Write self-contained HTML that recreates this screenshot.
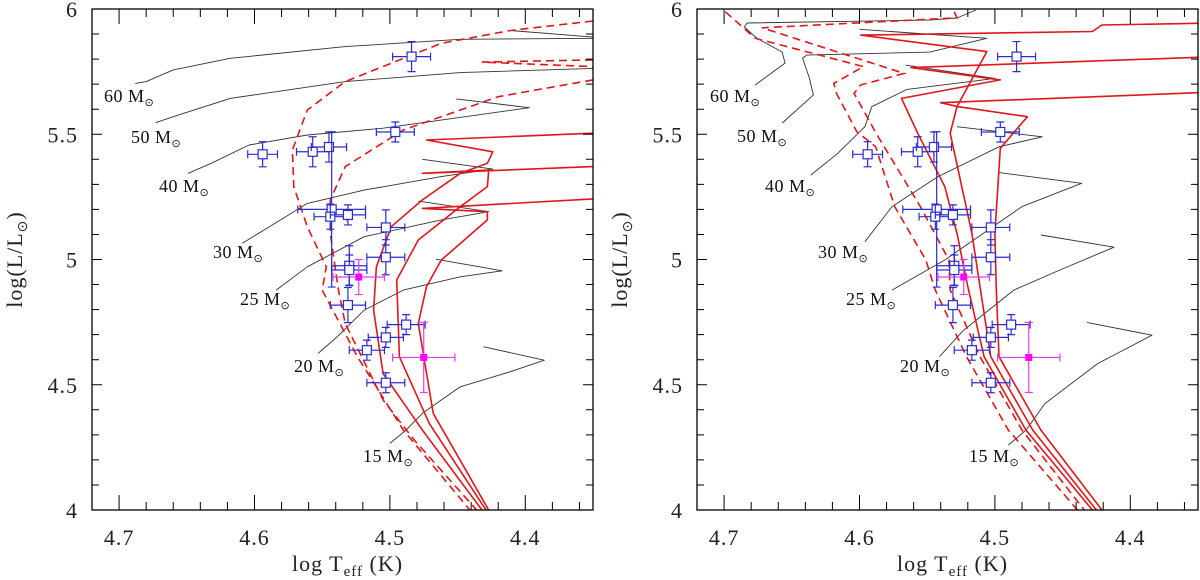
<!DOCTYPE html>
<html><head><meta charset="utf-8"><style>
html,body{margin:0;padding:0;background:#fff;}
svg{display:block;font-family:"Liberation Serif",serif;}
</style></head><body>
<svg id="chart" width="1200" height="580" viewBox="0 0 1200 580" xmlns="http://www.w3.org/2000/svg"></svg>
<script>
// ---- data ----
const xTicks = [4.7, 4.6, 4.5, 4.4];
const xTickLabels = ["4.7", "4.6", "4.5", "4.4"];
const yTicks = [6, 5.5, 5, 4.5, 4];
const yTickLabels = ["6", "5.5", "5", "4.5", "4"];
const xDomain = [4.72, 4.35];
const yDomain = [4, 6];

// blue observed stars
const starsT = [4.484, 4.594, 4.557, 4.545, 4.543, 4.496, 4.544, 4.531, 4.503, 4.503, 4.530, 4.530, 4.531, 4.488, 4.503, 4.517, 4.503];
const starsL = [5.810, 5.420, 5.430, 5.449, 5.200, 5.509, 5.171, 5.178, 5.128, 5.009, 4.975, 4.958, 4.818, 4.740, 4.689, 4.638, 4.508];
const starsErrT = [0.014, 0.011, 0.012, 0.013, 0.025, 0.014, 0.012, 0.013, 0.014, 0.014, 0.013, 0.013, 0.013, 0.014, 0.013, 0.013, 0.014];
const starsErrL = [0.06, 0.05, 0.06, 0.06, 0.31, 0.04, 0.05, 0.04, 0.07, 0.07, 0.08, 0.06, 0.07, 0.04, 0.04, 0.04, 0.04];
// magenta stars
const magT = [4.523, 4.475];
const magL = [4.930, 4.609];
const magErrT = [0.019, 0.023];
const magErrL = [0.07, 0.14];

const massLabels = ["60", "50", "40", "30", "25", "20", "15"];
// ---- left panel tracks ----
const leftBlack = [
 [[4.688,5.703],[4.680,5.710],[4.660,5.757],[4.618,5.803],[4.533,5.850],[4.448,5.879],[4.350,5.883]],
 [[4.411,5.914],[4.350,5.888]],
 [[4.673,5.546],[4.660,5.570],[4.618,5.643],[4.533,5.710],[4.448,5.746],[4.350,5.763]],
 [[4.649,5.344],[4.632,5.384],[4.604,5.457],[4.561,5.497],[4.505,5.524],[4.397,5.606],[4.451,5.641]],
 [[4.609,5.065],[4.589,5.131],[4.561,5.224],[4.519,5.277],[4.462,5.331],[4.424,5.361],[4.476,5.400]],
 [[4.584,4.878],[4.561,4.971],[4.519,5.091],[4.462,5.158],[4.427,5.191],[4.479,5.233]],
 [[4.553,4.625],[4.539,4.691],[4.519,4.798],[4.490,4.878],[4.448,4.931],[4.417,4.955],[4.466,5.001]],
 [[4.500,4.266],[4.488,4.319],[4.476,4.386],[4.448,4.492],[4.411,4.552],[4.386,4.598],[4.431,4.652]]
];
const leftDashed = [
 [[4.350,5.952],[4.411,5.914],[4.462,5.863],[4.533,5.710],[4.561,5.597],[4.572,5.437],[4.571,5.291],[4.561,5.131],[4.547,4.971],[4.550,4.878],[4.524,4.612],[4.490,4.319],[4.441,4.0]],
 [[4.350,5.717],[4.420,5.650],[4.490,5.517],[4.533,5.371],[4.544,5.238],[4.544,5.104],[4.538,4.878],[4.533,4.745],[4.505,4.439],[4.482,4.279],[4.436,4.0]],
 [[4.350,5.797],[4.432,5.788],[4.350,5.770]]
];
const leftSolid = [
 [[4.432,4.0],[4.476,4.319],[4.505,4.545],[4.512,4.798],[4.510,4.971],[4.499,5.131],[4.476,5.238],[4.448,5.344],[4.428,5.384],[4.424,5.430],[4.473,5.477],[4.350,5.504]],
 [[4.429,4.0],[4.471,4.346],[4.493,4.612],[4.495,4.918],[4.479,5.078],[4.448,5.211],[4.428,5.291],[4.427,5.357],[4.476,5.344],[4.350,5.371]],
 [[4.427,4.0],[4.468,4.386],[4.479,4.745],[4.473,4.892],[4.462,4.998],[4.428,5.158],[4.428,5.191],[4.476,5.204],[4.350,5.242]]
];
// ---- right panel tracks ----
const rightBlack = [
 [[4.677,5.697],[4.655,5.784],[4.657,5.828],[4.676,5.884],[4.685,5.928],[4.683,5.944],[4.548,5.956],[4.528,5.964],[4.514,5.996]],
 [[4.657,5.545],[4.634,5.657],[4.637,5.724],[4.642,5.804],[4.639,5.816],[4.548,5.828],[4.506,5.883],[4.600,5.919]],
 [[4.636,5.337],[4.616,5.424],[4.596,5.530],[4.591,5.610],[4.565,5.679],[4.500,5.723],[4.566,5.776]],
 [[4.596,5.071],[4.576,5.211],[4.542,5.331],[4.497,5.450],[4.465,5.490],[4.528,5.530]],
 [[4.576,4.878],[4.537,4.998],[4.480,5.211],[4.436,5.304],[4.497,5.347]],
 [[4.541,4.612],[4.523,4.718],[4.486,4.878],[4.452,4.958],[4.412,5.049],[4.466,5.098]],
 [[4.490,4.259],[4.477,4.319],[4.463,4.425],[4.424,4.585],[4.384,4.698],[4.432,4.749]]
];
const rightDashed = [
 [[4.699,5.989],[4.677,5.883],[4.597,5.770],[4.619,5.703],[4.617,5.663],[4.602,5.510],[4.588,5.450],[4.574,5.211],[4.551,4.998],[4.544,4.878],[4.521,4.612],[4.490,4.319],[4.439,4.0]],
 [[4.530,5.989],[4.528,5.965],[4.672,5.925],[4.567,5.743],[4.599,5.697],[4.604,5.663],[4.587,5.497],[4.555,5.211],[4.534,4.998],[4.533,4.878],[4.511,4.612],[4.480,4.319],[4.434,4.0]]
];
const rightSolid = [
 [[4.428,4.0],[4.477,4.319],[4.508,4.612],[4.520,4.892],[4.523,4.971],[4.528,5.104],[4.537,5.291],[4.557,5.504],[4.569,5.643],[4.496,5.717],[4.562,5.766],[4.350,5.807]],
 [[4.425,4.0],[4.472,4.319],[4.503,4.612],[4.511,4.892],[4.517,5.104],[4.533,5.504],[4.528,5.610],[4.506,5.830],[4.599,5.896],[4.428,5.910],[4.421,5.936],[4.350,5.943]],
 [[4.421,4.0],[4.466,4.319],[4.497,4.612],[4.499,4.892],[4.500,5.104],[4.496,5.444],[4.476,5.570],[4.527,5.610],[4.540,5.626],[4.350,5.666]]
];

// ---- layout ----
const NS = "http://www.w3.org/2000/svg";
const svg = document.getElementById("chart");
function el(tag, attrs, parent) {
  const e = document.createElementNS(NS, tag);
  for (const k in attrs) e.setAttribute(k, attrs[k]);
  (parent || svg).appendChild(e);
  return e;
}
const panels = [
  { id: "left", x0: 92, x1: 593, black: leftBlack, dashed: leftDashed, solid: leftSolid,
    labelPos: [[104,102],[131,143],[159,192],[213,258],[240,305],[294,372],[363,462]] },
  { id: "right", x0: 697, x1: 1198, black: rightBlack, dashed: rightDashed, solid: rightSolid,
    labelPos: [[710,102],[737,142],[765,192],[818,258],[846,305],[900,372],[969,462]] }
];
const Y0 = 9, Y1 = 510;

panels.forEach(p => {
  const sx = v => p.x0 + (xDomain[0] - v) / (xDomain[0] - xDomain[1]) * (p.x1 - p.x0);
  const sy = v => Y1 - (v - yDomain[0]) / (yDomain[1] - yDomain[0]) * (Y1 - Y0);
  const g = el("g", {});
  
  
  const clipId = "clip-" + p.id;
  const cp = el("clipPath", { id: clipId }, g);
  el("rect", { x: p.x0, y: Y0, width: p.x1 - p.x0, height: Y1 - Y0 }, cp);
  const plot = el("g", { "clip-path": "url(#" + clipId + ")" }, g);
  const pathD = pts => pts.map((q, i) => (i ? "L" : "M") + sx(q[0]).toFixed(1) + " " + sy(q[1]).toFixed(1)).join(" ");

  p.black.forEach((t) => {
    const e = el("path", { d: pathD(t), fill: "none", stroke: "#333", "stroke-width": 0.9, "stroke-linejoin": "round" }, plot);
    
    
  });
  p.dashed.forEach((t) => {
    const e = el("path", { d: pathD(t), fill: "none", stroke: "#e0161a", "stroke-width": 1.6, "stroke-dasharray": "8 5" }, plot);
    
    
  });
  p.solid.forEach((t) => {
    const e = el("path", { d: pathD(t), fill: "none", stroke: "#e0161a", "stroke-width": 1.6, "stroke-linejoin": "round" }, plot);
    
    
  });

  for (let i = 0; i < starsT.length; i++) {
    const cx = sx(starsT[i]), cy = sy(starsL[i]);
    const xl = sx(starsT[i] + starsErrT[i]), xr = sx(starsT[i] - starsErrT[i]);
    const yt = sy(starsL[i] + starsErrL[i]), yb = sy(starsL[i] - starsErrL[i]);
    const sg = el("g", { stroke: "#2c2cd0", "stroke-width": 1.2, fill: "none" }, plot);
    
    
    el("path", { d: `M${xl} ${cy}H${xr}M${cx} ${yt}V${yb}M${xl} ${cy-4}v8M${xr} ${cy-4}v8M${cx-4} ${yt}h8M${cx-4} ${yb}h8` }, sg);
    el("rect", { x: cx - 4.5, y: cy - 4.5, width: 9, height: 9, fill: "#fff" }, sg);
  }
  for (let i = 0; i < magT.length; i++) {
    const cx = sx(magT[i]), cy = sy(magL[i]);
    const xl = sx(magT[i] + magErrT[i]), xr = sx(magT[i] - magErrT[i]);
    const yt = sy(magL[i] + magErrL[i]), yb = sy(magL[i] - magErrL[i]);
    const sg = el("g", { stroke: "#e040e0", "stroke-width": 1.2, fill: "none" }, plot);
    
    
    el("path", { d: `M${xl} ${cy}H${xr}M${cx} ${yt}V${yb}M${xl} ${cy-4}v8M${xr} ${cy-4}v8M${cx-4} ${yt}h8M${cx-4} ${yb}h8` }, sg);
    el("rect", { x: cx - 3.5, y: cy - 3.5, width: 7, height: 7, fill: "#ff00ff", stroke: "none" }, sg);
  }

  massLabels.forEach((m, i) => {
    const [lx, ly] = p.labelPos[i];
    const t = el("text", { x: lx, y: ly, "font-size": 18, fill: "#111", "letter-spacing": 0.5 }, g);
    
    
    t.textContent = m + " M";
    const s = el("tspan", { dy: 4, "font-size": 11 }, t);
    s.textContent = "⊙";
  });

  const fr = el("rect", { x: p.x0, y: Y0, width: p.x1 - p.x0, height: Y1 - Y0, fill: "none", stroke: "#000", "stroke-width": 1.3 }, g);
  
  

  let td = "";
  for (let k = 0; k <= 20; k++) {
    const v = 4.36 + k * 0.02;
    if (v > xDomain[0] + 1e-6 || v < xDomain[1] - 1e-6) continue;
    const X = sx(v);
    const major = Math.abs(Math.round(v * 10) - v * 10) < 1e-6;
    const L = major ? 15 : 8;
    td += `M${X} ${Y1}v${-L}M${X} ${Y0}v${L}`;
  }
  for (let k = 1; k < 20; k++) {
    const v = 4 + k * 0.1;
    const Y = sy(v);
    const L = (k % 5 === 0) ? 10 : 7;
    td += `M${p.x0} ${Y}h${L}M${p.x1} ${Y}h${-L}`;
  }
  const tk = el("path", { d: td, stroke: "#000", "stroke-width": 1 }, g);
  
  

  xTicks.forEach((v, i) => {
    const t = el("text", { x: sx(v), y: 545, "font-size": 22, "text-anchor": "middle", fill: "#222", "letter-spacing": 1 }, g);
    
    
    t.textContent = xTickLabels[i];
  });
  yTicks.forEach((v, i) => {
    const t = el("text", { x: p.x0 - 14, y: sy(v) + 8, "font-size": 22, "text-anchor": "end", fill: "#222", "letter-spacing": 1 }, g);
    
    
    t.textContent = yTickLabels[i];
  });

  const xt = el("text", { x: (p.x0 + p.x1) / 2 + 5, y: 571, "font-size": 22, "text-anchor": "middle", fill: "#222", "letter-spacing": 1 }, g);
  
  
  xt.appendChild(document.createTextNode("log  T"));
  const sub = el("tspan", { dy: 5, "font-size": 15 }, xt); sub.textContent = "eff";
  const rest = el("tspan", { dy: -5 }, xt); rest.textContent = "  (K)";

  const yt = el("text", { x: 0, y: 0, "font-size": 22, "text-anchor": "middle", fill: "#222", "letter-spacing": 1,
    transform: `translate(${p.x0 - 70},${(Y0 + Y1) / 2}) rotate(-90)` }, g);
  
  
  yt.appendChild(document.createTextNode("log(L/L"));
  const s2 = el("tspan", { dy: 5, "font-size": 14 }, yt); s2.textContent = "⊙";
  const s3 = el("tspan", { dy: -5 }, yt); s3.textContent = ")";
});
</script>
</body></html>
